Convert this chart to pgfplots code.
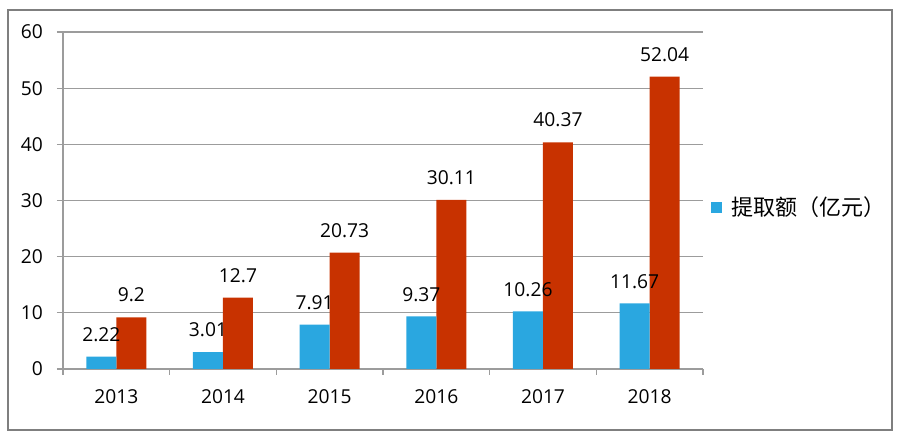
\documentclass[border=0pt]{standalone}
\usepackage{pgfplots}
\pgfplotsset{compat=1.18}
\usepackage{fontspec}
\setmainfont{Open Sans}
\newfontfamily\cjk{Noto Sans CJK SC}
\definecolor{barblue}{HTML}{2AA7E0}
\definecolor{barred}{HTML}{C83200}
\definecolor{gridgray}{HTML}{9C9C9C}
\definecolor{framegray}{HTML}{7F7F7F}
\begin{document}
\begin{tikzpicture}
\path (0,0) rectangle (450pt,219.5pt);
\draw[framegray, line width=1pt] (4pt,4.5pt) rectangle (446pt,214.5pt);
\begin{axis}[
  at={(31.5pt,35pt)}, anchor=south west,
  scale only axis, width=320pt, height=168.5pt,
  ymin=0, ymax=60, ytick={0,10,...,60},
  xmin=-0.5, xmax=5.5,
  xtick={0,...,5},
  xticklabels={2013,2014,2015,2016,2017,2018},
  minor xtick={-0.5,0.5,...,5.5},
  axis x line*=bottom, axis y line*=left,
  axis line style={gridgray, line width=0.6pt},
  ymajorgrids, major grid style={gridgray, line width=0.6pt},
  tick align=outside, major tick length=3pt, minor tick length=3pt,
  major x tick style={draw=none},
  tick style={gridgray, line width=0.6pt},
  /pgf/number format/assume math mode=true,
  ticklabel style={font=\fontsize{9.6}{12}\selectfont},
  yticklabel style={xshift=-3.5pt},
  xticklabel style={yshift=-4pt},
  nodes near coords,
  every node near coord/.append style={font=\fontsize{9.6}{12}\selectfont, yshift=4pt, text=black},
  point meta=explicit symbolic,
  legend style={draw=none, at={(1.012,0.478)}, anchor=west, font=\cjk\fontsize{11}{12}\selectfont, inner sep=0pt},
  legend image code/.code={\fill[barblue] (0pt,-2.75pt) rectangle (5.5pt,2.75pt);},
  legend cell align=left,
  legend style={/tikz/every odd column/.append style={column sep=2.5pt}},
]
\addplot[ybar, bar width=15pt, bar shift=7.5pt, fill=barred, draw=none, forget plot,
  every node near coord/.append style={xshift=7.5pt}]
  coordinates {(0,9.2)[9.2] (1,12.7)[12.7] (2,20.73)[20.73] (3,30.11)[30.11] (4,40.37)[40.37] (5,52.04)[52.04]};
\addplot[ybar, bar width=15pt, bar shift=-7.5pt, fill=barblue, draw=none,
  every node near coord/.append style={xshift=-7.5pt}]
  coordinates {(0,2.22)[2.22] (1,3.01)[3.01] (2,7.91)[7.91] (3,9.37)[9.37] (4,10.26)[10.26] (5,11.67)[11.67]};
\addlegendentry{提取额（亿元）}
\end{axis}
\end{tikzpicture}
\end{document}
